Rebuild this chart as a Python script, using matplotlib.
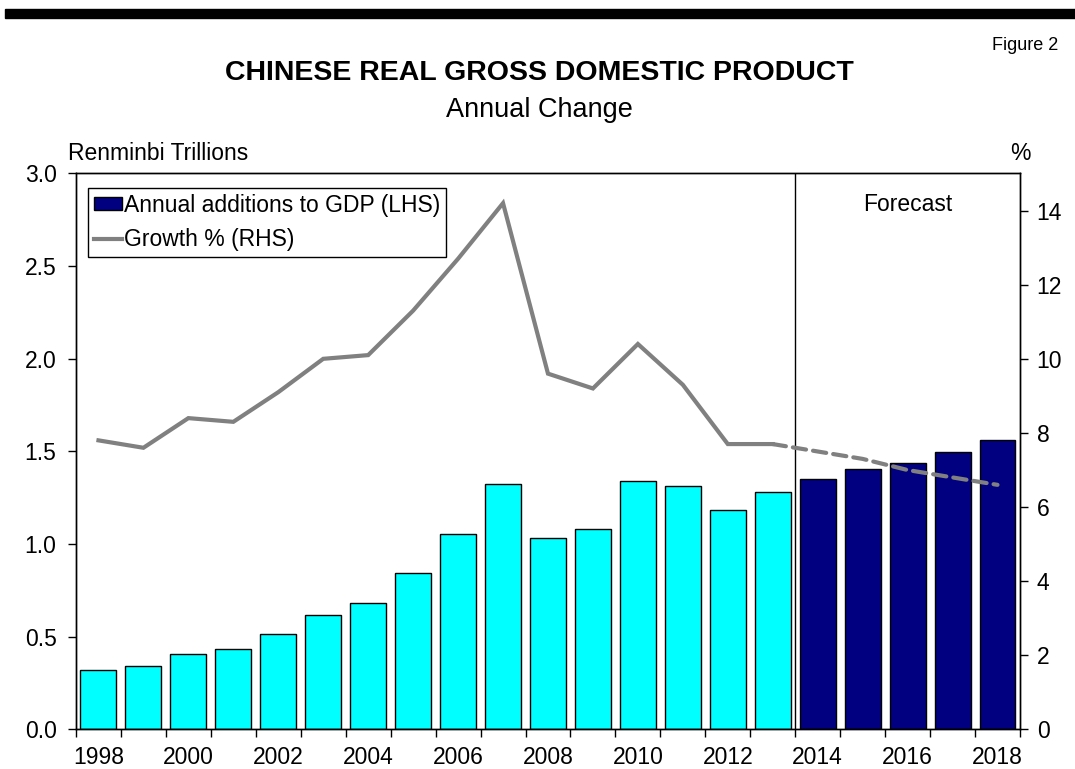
import numpy as np
import matplotlib
matplotlib.use("Agg")
import matplotlib.pyplot as plt
from matplotlib.patches import Rectangle, Patch
from matplotlib.lines import Line2D

plt.rcParams["font.family"] = ["Liberation Sans", "DejaVu Sans"]

# --- data ---
years = list(range(1998, 2019))
gdp_additions = [0.322, 0.340, 0.406, 0.435, 0.513, 0.617, 0.683, 0.843, 1.055, 1.326,
                 1.032, 1.080, 1.339, 1.316, 1.184, 1.280,
                 1.350, 1.404, 1.440, 1.499, 1.562]
growth_actual = [7.8, 7.6, 8.4, 8.3, 9.1, 10.0, 10.1, 11.3, 12.7, 14.2,
                 9.6, 9.2, 10.4, 9.3, 7.7, 7.7]
growth_forecast = [7.7, 7.5, 7.3, 7.0, 6.8, 6.6]   # starts from 2013
first_forecast_year = 2014

CYAN = "#00FFFF"
NAVY = "#000080"
GREY = "#808080"

x = np.arange(len(years))
n_actual = years.index(first_forecast_year)
bar_colors = [CYAN] * n_actual + [NAVY] * (len(years) - n_actual)

fig = plt.figure(figsize=(10.75, 7.69), dpi=100)
ax = fig.add_axes([0.0707, 0.0514, 0.8781, 0.7230])
ax2 = ax.twinx()

ax.bar(x, gdp_additions, width=0.8, color=bar_colors, edgecolor="black", linewidth=1.0, zorder=2)

# growth line on the right-hand scale
ax2.plot(x[:n_actual], growth_actual, color=GREY, lw=3, solid_joinstyle="miter", zorder=3)
ax2.plot(x[n_actual - 1:], growth_forecast, color=GREY, lw=3, ls=(0, (3.2, 1.7)),
         dash_capstyle="round", zorder=3)

# forecast divider
ax.axvline(n_actual - 0.5, color="black", lw=1.0, zorder=3)
ax.text(n_actual + 2, 2.835, "Forecast", ha="center", va="center", fontsize=16.5)

# axes limits / ticks
ax.set_xlim(-0.5, len(years) - 0.5)
ax.set_ylim(0, 3.0)
ax2.set_ylim(0, 15)
ax.set_yticks(np.arange(0, 3.01, 0.5))
ax.set_yticklabels([f"{v:.1f}" for v in np.arange(0, 3.01, 0.5)])
ax2.set_yticks(range(0, 15, 2))

ax.set_xticks(x[::2])
ax.set_xticklabels([str(y) for y in years[::2]])
ax.set_xticks(np.arange(-0.5, len(years), 1.0), minor=True)
ax.tick_params(axis="x", which="major", length=0, pad=12, labelsize=16.5)
ax.tick_params(axis="x", which="minor", length=6, width=1, direction="out")
ax.tick_params(axis="y", length=6, width=1, pad=8, labelsize=16.5)
ax2.tick_params(axis="y", length=6, width=1, pad=6, labelsize=16.5)

for a in (ax, ax2):
    for s in a.spines.values():
        s.set_linewidth(1.0)

# legend
handles = [Patch(facecolor=NAVY, edgecolor="black", lw=1.0),
           Line2D([0], [0], color=GREY, lw=3)]
leg = ax2.legend(handles, ["Annual additions to GDP (LHS)", "Growth % (RHS)"],
                 loc="upper left", bbox_to_anchor=(0.0125, 0.974), borderaxespad=0,
                 fontsize=16.5, frameon=True, fancybox=False, framealpha=1,
                 edgecolor="black", handlelength=1.25, handleheight=0.5,
                 handletextpad=0.1, labelspacing=0.5, borderpad=0.25)
leg.get_frame().set_linewidth(1.0)
leg.set_zorder(10)

# header
fig.patches.append(Rectangle((0.005, 1 - 17.5 / 769), 0.995, 8.5 / 769,
                             transform=fig.transFigure, color="black"))
fig.text(0.984, 0.935, "Figure 2", ha="right", va="baseline", fontsize=13)
fig.text(0.502, 0.896, "CHINESE REAL GROSS DOMESTIC PRODUCT", ha="center",
         va="baseline", fontsize=20.5, fontweight="bold")
fig.text(0.502, 0.848, "Annual Change", ha="center", va="baseline", fontsize=19.5)
fig.text(0.063, 0.792, "Renminbi Trillions", ha="left", va="baseline", fontsize=16.5)
fig.text(0.949, 0.792, "%", ha="center", va="baseline", fontsize=16.5)

fig.savefig("out.png", dpi=100)
